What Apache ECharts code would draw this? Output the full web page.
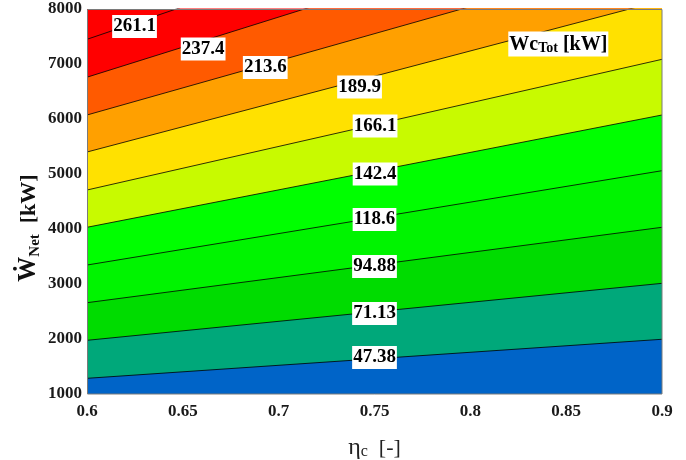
<!DOCTYPE html>
<html><head><meta charset="utf-8">
<script src="https://cdn.jsdelivr.net/npm/echarts@6/dist/echarts.min.js"></script>
<style>html,body{margin:0;padding:0;background:#fff}#c{width:686px;height:460px}</style>
</head><body><div id="c"></div>
<script>
// contour levels of Wc_Tot [kW]
const levels = ['47.38','71.13','94.88','118.6','142.4','166.1','189.9','213.6','237.4','261.1'];
// eta_c range of the plot
const etaEnds = [0.6, 0.9];
// W_net [kW] where each contour meets eta=0.6 and eta=0.9 (beyond 8000 estimated)
const wAtLeft  = [1285, 1976, 2660, 3345, 4031, 4709, 5400, 6073, 6760, 7449];
const wAtRight = [1995, 3012, 4031, 5060, 6073, 7085, 8156, 9030, 10040, 11004];
// band colours: band below level i, last = above top level
const bandColors = ['#0064c8','#00a87a','#00dc00','#00f400','#00ff00','#c8fa00','#ffe100','#ffa000','#ff5a00','#ff0000','#ff0000'];
// contour label anchors
const labelEta = [0.7500, 0.7500, 0.7500, 0.7500, 0.7503, 0.7503, 0.7422, 0.6930, 0.6606, 0.6248];
const labelW   = [1664, 2464, 3318, 4173, 5000, 5873, 6582, 6936, 7273, 7682];
const unitLabelPos = [0.8459, 7364];
// tick labels
const xTickLabels = ['0.6','0.65','0.7','0.75','0.8','0.85','0.9'];
const yTickLabels = ['1000','2000','3000','4000','5000','6000','7000','8000'];

const FF = '"Liberation Serif","Times New Roman",serif';
const chart = echarts.init(document.getElementById('c'), null, {renderer:'canvas'});

const series = [];
for (let i = levels.length - 1; i >= 0; i--) {
  series.push({
    type: 'line', silent: true, symbol: 'none', clip: true, z: 2,
    data: [[etaEnds[0], wAtLeft[i]], [etaEnds[1], wAtRight[i]]],
    lineStyle: {color: '#000', width: 0.8},
    areaStyle: {color: bandColors[i], opacity: 1, origin: 'start'}
  });
}
const labelStyle = {
  show: true, position: 'inside', color: '#000', opacity: 1, fontFamily: FF, fontWeight: 'bold',
  fontSize: 19, lineHeight: 20, backgroundColor: '#fff', padding: [2, 1, 1, 1]
};
series.push({
  type: 'scatter', silent: true, symbolSize: 0, z: 5, itemStyle: {opacity: 1},
  data: levels.map((t, i) => ({value: [labelEta[i], labelW[i]], name: t})),
  label: Object.assign({}, labelStyle, {formatter: p => p.name})
});
series.push({
  type: 'scatter', silent: true, symbolSize: 0, z: 5, itemStyle: {opacity: 1},
  data: [{value: unitLabelPos, name: 'unit'}],
  label: Object.assign({}, labelStyle, {
    formatter: '{a|Wc}{s|Tot}{a| [kW]}',
    rich: {
      a: {fontFamily: FF, fontWeight: 'bold', fontSize: 20, lineHeight: 22, color: '#000'},
      s: {fontFamily: FF, fontWeight: 'bold', fontSize: 14, lineHeight: 14, verticalAlign: 'bottom', color: '#000'}
    }
  })
});

chart.setOption({
  animation: false,
  backgroundColor: '#fff',
  grid: {left: 87, top: 9, right: 24, bottom: 66, show: true, backgroundColor: bandColors[10], borderWidth: 0,
    outerBoundsMode: 'none', containLabel: false},
  xAxis: {
    type: 'value', min: 0.6, max: 0.9, interval: 0.05,
    axisLine: {show: false}, axisTick: {show: false}, splitLine: {show: false},
    axisLabel: {margin: 9, color: '#1a1a1a', fontFamily: FF, fontWeight: 'bold', fontSize: 17,
      formatter: (v, i) => xTickLabels[i]},
    name: '{e|η}{c|c}{b|  [-]}', nameLocation: 'middle', nameGap: 42,
    nameTextStyle: {fontFamily: FF, color: '#222', rich: {
      e: {fontFamily: FF, fontSize: 24, lineHeight: 24, color: '#222'},
      c: {fontFamily: FF, fontSize: 16, lineHeight: 16, verticalAlign: 'bottom', color: '#222'},
      b: {fontFamily: FF, fontSize: 22, lineHeight: 24, color: '#222'}
    }}
  },
  yAxis: {
    type: 'value', min: 1000, max: 8000, interval: 1000,
    axisLine: {show: false}, axisTick: {show: false}, splitLine: {show: false},
    axisLabel: {margin: 5, color: '#1a1a1a', fontFamily: FF, fontWeight: 'bold', fontSize: 17,
      formatter: (v, i) => yTickLabels[i]}
  },
  graphic: [
    {type: 'rect', z: 100, silent: true, shape: {x: 87.5, y: 9.5, width: 574.5, height: 384.5},
      style: {fill: 'none', stroke: '#7a7a7a', lineWidth: 1}},
    {type: 'text', z: 100, x: 29, y: 228, rotation: Math.PI / 2, silent: true,
      style: {text: '{w|Ẇ}{s|Net}{b|  [kW]}', align: 'center', verticalAlign: 'middle',
        rich: {
          w: {fontFamily: FF, fontWeight: 'bold', fontSize: 25, lineHeight: 28, fill: '#111'},
          s: {fontFamily: FF, fontWeight: 'bold', fontSize: 15, lineHeight: 15, verticalAlign: 'bottom', fill: '#111'},
          b: {fontFamily: FF, fontWeight: 'bold', fontSize: 22, lineHeight: 28, fill: '#111'}
        }}}
  ],
  series: series
});
</script></body></html>
